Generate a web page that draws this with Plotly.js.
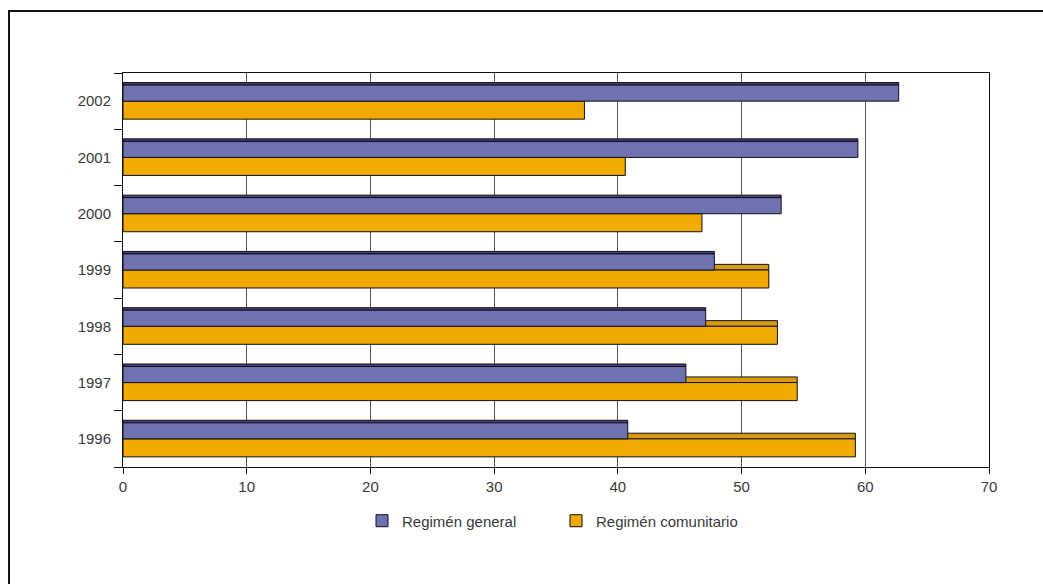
<!DOCTYPE html>
<html>
<head>
<meta charset="utf-8">
<script src="https://cdn.plot.ly/plotly-3.0.1.min.js"></script>
<style>
  html, body { margin: 0; padding: 0; background: #fff; }
  #wrap { position: relative; width: 1043px; height: 584px; overflow: hidden; }
  #chart { width: 1043px; height: 584px; }
  #frame { position: absolute; left: 8px; top: 10px; width: 1100px; height: 700px;
           border-left: 2px solid #111; border-top: 2px solid #111; pointer-events: none; }
</style>
</head>
<body>
<div id="wrap">
  <div id="chart"></div>
  <div id="frame"></div>
</div>
<script>
// Data
const years = ['1996', '1997', '1998', '1999', '2000', '2001', '2002'];
const regimenGeneral = [40.8, 45.5, 47.1, 47.8, 53.2, 59.4, 62.7];
const regimenComunitario = [59.2, 54.5, 52.9, 52.2, 46.8, 40.6, 37.3];
const seriesNames = ['Regimén general', 'Regimén comunitario'];
const xTicks = [0, 10, 20, 30, 40, 50, 60, 70];

const purple = '#6E72B0', purpleDark = '#4A3C8C';
const orange = '#F0AA00', orangeDark = '#D89A10';

const traces = [
  { type: 'bar', orientation: 'h', y: years, x: regimenComunitario,
    offset: 0, width: 0.1, marker: { color: orangeDark, line: { color: '#111', width: 1 } },
    showlegend: false, hoverinfo: 'skip' },
  { type: 'bar', orientation: 'h', y: years, x: regimenComunitario, name: seriesNames[1],
    offset: -0.32, width: 0.32, marker: { color: orange, line: { color: '#111', width: 1 } } },
  { type: 'bar', orientation: 'h', y: years, x: regimenGeneral,
    offset: 0.285, width: 0.045, marker: { color: purpleDark, line: { color: '#111', width: 1 } },
    showlegend: false, hoverinfo: 'skip' },
  { type: 'bar', orientation: 'h', y: years, x: regimenGeneral, name: seriesNames[0],
    offset: 0, width: 0.285, marker: { color: purple, line: { color: '#111', width: 1 } } }
];

const layout = {
  width: 1043, height: 584,
  margin: { l: 123, r: 54, t: 73, b: 117 },
  paper_bgcolor: '#fff', plot_bgcolor: '#fff',
  barmode: 'overlay',
  font: { family: 'Liberation Sans, Arial, sans-serif', size: 15, color: '#3a3a3a' },
  xaxis: {
    range: [0, 70], tickvals: xTicks, ticktext: xTicks.map(String),
    showgrid: true, gridcolor: '#555', gridwidth: 1,
    showline: true, mirror: true, linecolor: '#111', linewidth: 1,
    ticks: 'outside', ticklen: 6, tickcolor: '#111', zeroline: false,
    tickfont: { size: 15, color: '#3a3a3a' }
  },
  yaxis: {
    type: 'category', categoryorder: 'array', categoryarray: years,
    range: [-0.5, 6.5], tickson: 'boundaries',
    showgrid: false, showline: true, mirror: true, linecolor: '#111', linewidth: 1,
    ticks: 'outside', ticklen: 8, tickcolor: '#111', ticklabelstandoff: 8,
    tickfont: { size: 15, color: '#3a3a3a' }
  },
  legend: {
    orientation: 'h', x: 0.5, xanchor: 'center', y: -0.137, yanchor: 'middle',
    traceorder: 'reversed', entrywidth: 149, entrywidthmode: 'pixels',
    font: { size: 15, color: '#3a3a3a' }
  },
  showlegend: true
};

Plotly.newPlot('chart', traces, layout, { displayModeBar: false, staticPlot: true });
</script>
</body>
</html>
